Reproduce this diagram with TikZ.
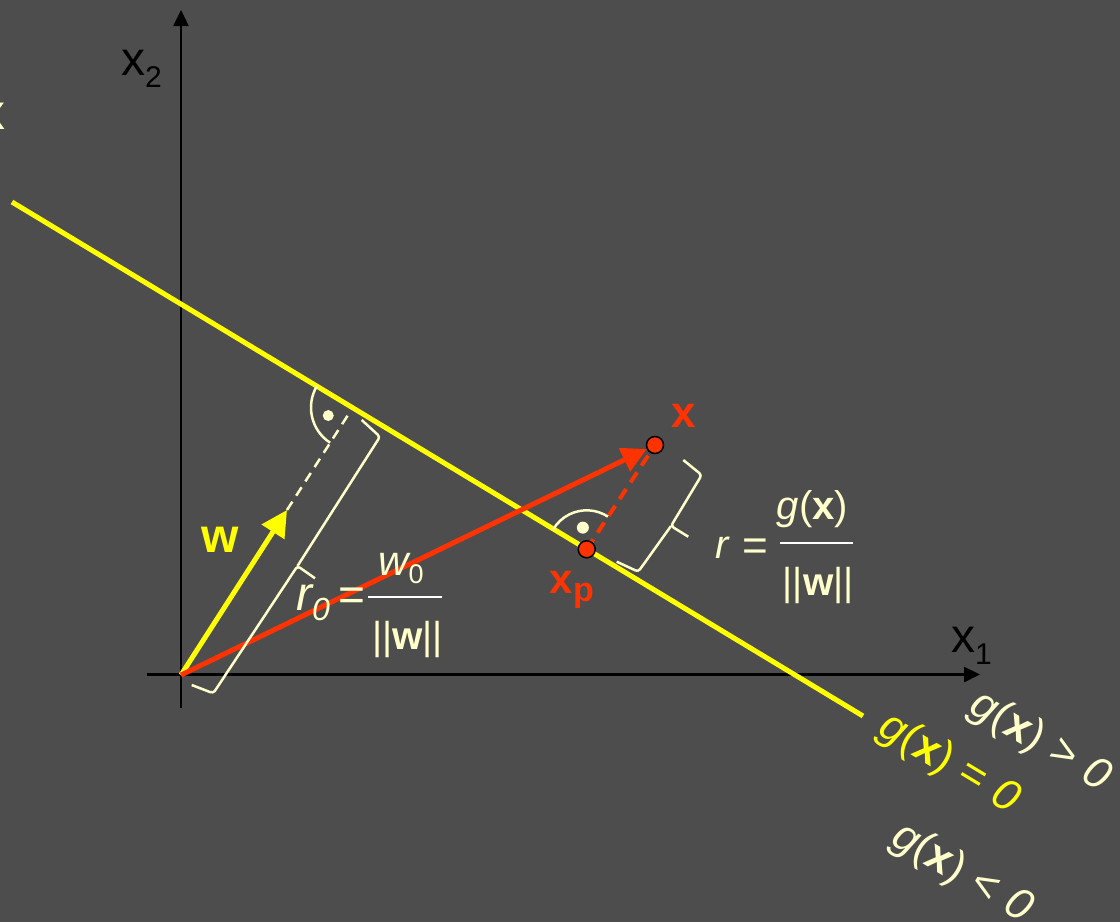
\documentclass[tikz,border=0pt]{standalone}
\usepackage{fontspec}
\setmainfont{Liberation Sans}
\usetikzlibrary{arrows.meta}
\definecolor{bg}{RGB}{77,77,77}
\definecolor{cream}{RGB}{255,255,204}
\definecolor{ylw}{RGB}{255,255,0}
\definecolor{rd}{RGB}{255,51,0}
\newcommand\fsz[1]{\fontsize{#1}{#1}\selectfont}
\begin{document}
\begin{tikzpicture}[x=1pt,y=-1pt,
  axisline/.style={black,line width=2.5pt,-{Triangle[length=16pt,width=15pt]}},
  wvec/.style={ylw,line width=5pt,-{Triangle[length=26pt,width=26pt]}},
  xvec/.style={rd,line width=5pt,-{Triangle[length=25pt,width=25pt]},shorten >=9pt},
  plane/.style={ylw,line width=5pt},
  helper/.style={cream,line width=2.5pt,dash pattern=on 10pt off 7pt},
  reddash/.style={rd,line width=4pt,dash pattern=on 12pt off 8pt},
  anglemark/.style={cream,line width=2.5pt},
  markdot/.style={fill=cream},
  bracestyle/.style={cream,line width=2.5pt,rounded corners=3pt,line join=round},
  ptstyle/.style={draw=black,line width=1.5pt,fill=rd},
  fracline/.style={white,line width=2.5pt},
  lbl/.style={inner sep=0pt,text=cream},
  cond/.style={inner sep=0pt,rotate=-31,font=\fsz{44}}
]
\useasboundingbox (0,0) rectangle (1120,922);
\fill[bg] (0,0) rectangle (1120,922);

% coordinates
\coordinate (O) at (181,675);
\coordinate (YT) at (181,10);
\coordinate (YB) at (181,708);
\coordinate (XL) at (147,674.5);
\coordinate (XR) at (980,674.5);
\coordinate (L1) at (12,202);
\coordinate (L2) at (863,716);
\coordinate (WT) at (287,510);
\coordinate (DE) at (348,415);
\coordinate (F) at (353,407.5);
\coordinate (X) at (655,445);
\coordinate (XP) at (586.7,549.3);

% axes
\draw[axisline] (YB) -- (YT);
\draw[axisline] (XL) -- (XR);

% decision line
\draw[plane] (L1) -- (L2);

% helper dashed line and w vector
\draw[helper] (WT) -- (DE);
\draw[wvec] (O) -- (WT);

% x vector and perpendicular
\draw[xvec] (O) -- (X);
\draw[reddash] (XP) -- (X);

% right-angle marks
\draw[anglemark] (F) ++(149:42pt) arc[start angle=149,end angle=237,radius=42pt];
\fill[markdot] (F) ++(198:26pt) circle[radius=5.5pt];
\draw[anglemark] (XP) ++(57:39pt) arc[start angle=57,end angle=149,radius=39pt];
\fill[markdot] (XP) ++(100:22pt) circle[radius=6pt];

% points
\draw[ptstyle] (X) circle[radius=8.5pt];
\draw[ptstyle] (XP) circle[radius=8.5pt];

% braces
\draw[bracestyle] (191.7,685) -- (213.3,693.3) -- (297.5,566) -- (315,578.3);
\draw[bracestyle] (297.5,566) -- (380,436.7) -- (361.7,420);
\draw[bracestyle] (683.3,460) -- (701.7,475) -- (671,526) -- (688.3,536.7);
\draw[bracestyle] (671,526) -- (638.3,571.7) -- (616.7,561.7);

% axis labels
\node[inner sep=0pt,anchor=base west,font=\fsz{48}] (lx2) at (121,75) {x\raisebox{-12pt}{\fsz{30}2}};
\node[inner sep=0pt,anchor=base west,font=\fsz{48}] (lx1) at (951,652) {x\raisebox{-12pt}{\fsz{30}1}};

% point labels
\node[inner sep=0pt,anchor=base west,text=rd,font=\fsz{44}\bfseries] (lx) at (671,427) {x};
\node[inner sep=0pt,anchor=base west,text=rd,font=\fsz{42}\bfseries] (lxp) at (549.5,593.5) {x\raisebox{-8pt}{\fsz{34}p}};
\node[inner sep=0pt,anchor=base west,text=ylw,font=\fsz{48}\bfseries] (lw) at (201,552) {w};

% r0 formula
\node[lbl,anchor=base west,font=\fsz{48}] (r0) at (296,610) {\itshape r\raisebox{-10pt}{\fsz{32}0}};
\node[lbl,font=\fsz{46}] (eq0) at (351.5,599) {=};
\node[lbl,anchor=base west,font=\fsz{42}] (w0) at (378,575) {\itshape w\raisebox{-8pt}{\fsz{27}\upshape 0}};
\draw[fracline] (368,597) -- (442,597);
\node[lbl,font=\fsz{39}] (nw0) at (407.5,639) {||\textbf{w}||};

% r formula
\node[lbl,anchor=base west,font=\fsz{40}] (r) at (715,558) {\itshape r};
\node[lbl,font=\fsz{44}] (eq) at (755,549.5) {=};
\draw[fracline] (780,543) -- (853,543);
\node[lbl,font=\fsz{40}] (gx) at (812.5,509) {\itshape g\upshape(\textbf{x})};
\node[lbl,font=\fsz{39}] (nw) at (818.3,585) {||\textbf{w}||};

% region labels
\node[cond,text=ylw] (g0) at (949,764) {\itshape g\upshape(\textbf{x})\hspace{0.3em}=\hspace{0.3em}\itshape 0};
\node[cond,text=cream] (gp) at (1040,742) {\itshape g\upshape(\textbf{x})\hspace{0.3em}>\hspace{0.3em}\itshape 0};
\node[cond,text=cream] (gn) at (961.5,873.5) {\itshape g\upshape(\textbf{x})\hspace{0.3em}<\hspace{0.3em}\itshape 0};

% cut-off label fragment at left edge
\node[inner sep=0pt,text=cream,font=\fsz{50}\bfseries] (frag) at (-9,116.5) {x};
\end{tikzpicture}
\end{document}
